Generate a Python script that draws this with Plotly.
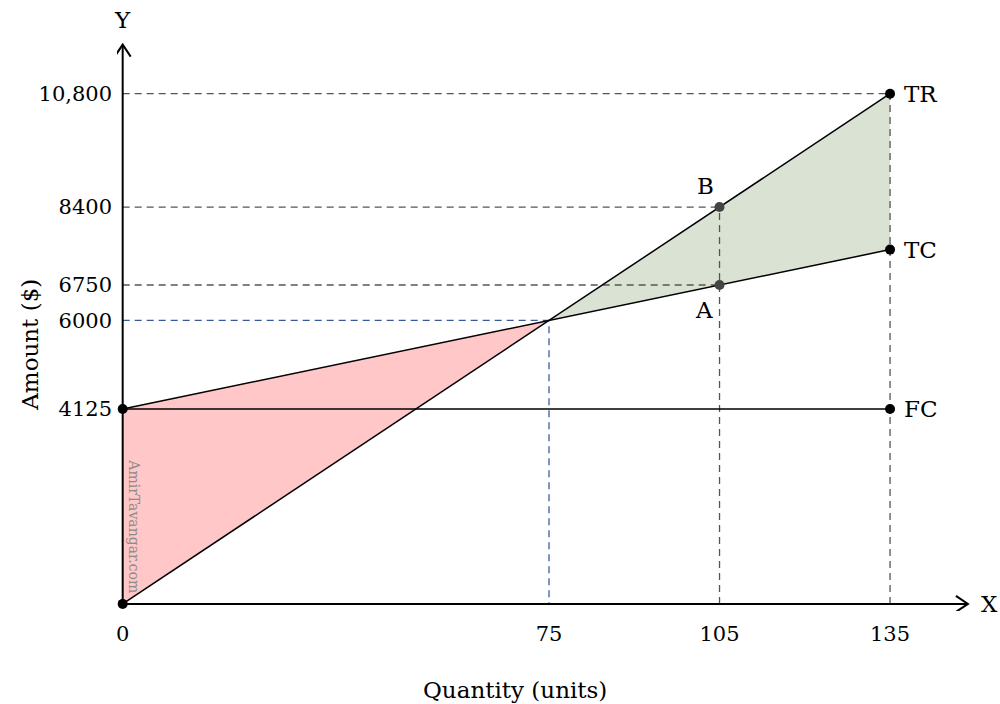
import plotly.graph_objects as go

# break-even data
q_ticks = [0, 75, 105, 135]
amount_ticks = [4125, 6000, 6750, 8400, 10800]
amount_labels = ["4125", "6000", "6750", "8400", "10,800"]

q_line = [0, 135]
tr_line = [0, 10800]
tc_line = [4125, 7500]
fc_line = [4125, 4125]

be_q, be_amt = 75, 6000
q_b, tr_b, tc_a = 105, 8400, 6750

loss_q = [0, 0, 75]
loss_amt = [0, 4125, 6000]
profit_q = [75, 135, 135]
profit_amt = [6000, 10800, 7500]

X_TIP, Y_TIP = 148.7, 11838
FONT = "DejaVu Serif"
DASH_GREY = "#555555"
DASH_BLUE = "#3a5a9c"
DASH = "7px,5px"

fig = go.Figure()

fig.add_trace(go.Scatter(x=loss_q, y=loss_amt, fill="toself", fillcolor="#ffc7c7",
                         line=dict(width=0), mode="lines", hoverinfo="skip"))
fig.add_trace(go.Scatter(x=profit_q, y=profit_amt, fill="toself", fillcolor="#d9e2d3",
                         line=dict(width=0), mode="lines", hoverinfo="skip"))

# dashed guides
for x_end, y_val in [(135, 10800), (q_b, tr_b), (q_b, tc_a)]:
    fig.add_trace(go.Scatter(x=[0, x_end], y=[y_val, y_val], mode="lines",
                             line=dict(color=DASH_GREY, width=1.3, dash=DASH)))
for x_val, y_end in [(q_b, tr_b), (135, 10800)]:
    fig.add_trace(go.Scatter(x=[x_val, x_val], y=[0, y_end], mode="lines",
                             line=dict(color=DASH_GREY, width=1.3, dash=DASH)))
fig.add_trace(go.Scatter(x=[0, be_q, be_q], y=[be_amt, be_amt, 0], mode="lines",
                         line=dict(color=DASH_BLUE, width=1.3, dash=DASH)))

# TR / TC / FC
for ys in (tr_line, tc_line, fc_line):
    fig.add_trace(go.Scatter(x=q_line, y=ys, mode="lines", line=dict(color="black", width=1.5)))

# axes with arrowheads
fig.add_shape(type="line", x0=0, y0=0, x1=X_TIP, y1=0, line=dict(color="black", width=2))
fig.add_shape(type="line", x0=0, y0=0, x1=0, y1=Y_TIP, line=dict(color="black", width=2))
fig.add_shape(type="path", xref="x", yref="y", xsizemode="pixel", ysizemode="pixel",
              xanchor=X_TIP, yanchor=0, path="M -12 -8 L 0 0 L -12 8",
              line=dict(color="black", width=2))
fig.add_shape(type="path", xref="x", yref="y", xsizemode="pixel", ysizemode="pixel",
              xanchor=0, yanchor=Y_TIP, path="M -8 -12 L 0 0 L 8 -12",
              line=dict(color="black", width=2))

fig.add_trace(go.Scatter(x=[0, 0, 135, 135, 135], y=[0, 4125, 10800, 7500, 4125], mode="markers",
                         marker=dict(color="black", size=10), cliponaxis=False))
fig.add_trace(go.Scatter(x=[q_b, q_b], y=[tr_b, tc_a], mode="markers",
                         marker=dict(color="#444444", size=10), cliponaxis=False))

lab = dict(family=FONT, size=23, color="black")
ann = [
    dict(x=135, y=10800, text="TR", xanchor="left", xshift=12),
    dict(x=135, y=7500, text="TC", xanchor="left", xshift=12),
    dict(x=135, y=4125, text="FC", xanchor="left", xshift=12),
    dict(x=q_b, y=tr_b, text="B", xshift=-14, yshift=21),
    dict(x=q_b, y=tc_a, text="A", xshift=-16, yshift=-25),
    dict(x=X_TIP, y=0, text="X", xanchor="left", xshift=11),
    dict(x=0, y=Y_TIP, text="Y", yanchor="bottom", yshift=10),
]
for a in ann:
    fig.add_annotation(showarrow=False, font=lab, **a)

fig.add_annotation(x=0, y=1650, text="AmirTavangar.com", textangle=90, showarrow=False,
                   xanchor="left", xshift=1, font=dict(family=FONT, size=14, color="#8c8c8c"))

# axis titles
fig.add_annotation(xref="paper", x=0, y=5485, text="Amount ($)", textangle=-90, showarrow=False,
                   xanchor="center", yanchor="middle", xshift=-87,
                   font=dict(family=FONT, size=23, color="black"))
fig.add_annotation(x=69, yref="paper", y=0, text="Quantity (units)", showarrow=False,
                   xanchor="center", yanchor="middle", yshift=-79,
                   font=dict(family=FONT, size=23, color="black"))

fig.update_layout(
    width=1000, height=704, showlegend=False,
    paper_bgcolor="white", plot_bgcolor="white",
    margin=dict(l=117, r=19, t=37, b=93, autoexpand=False),
    font=dict(family=FONT, size=21, color="black"),
)
fig.update_xaxes(range=[-1, 151], tickvals=q_ticks, ticks="", showgrid=False, zeroline=False,
                 showline=False, ticklabelstandoff=8, automargin=False)
fig.update_yaxes(range=[-150, 12000], tickvals=amount_ticks, ticktext=amount_labels, ticks="",
                 showgrid=False, zeroline=False, showline=False, ticklabelstandoff=4,
                 automargin=False)

# drop the default 8px body margin so the figure fills the window exactly
fig.write_html("out.html", config={"displayModeBar": False},
               post_script="document.body.style.margin='0px';")
